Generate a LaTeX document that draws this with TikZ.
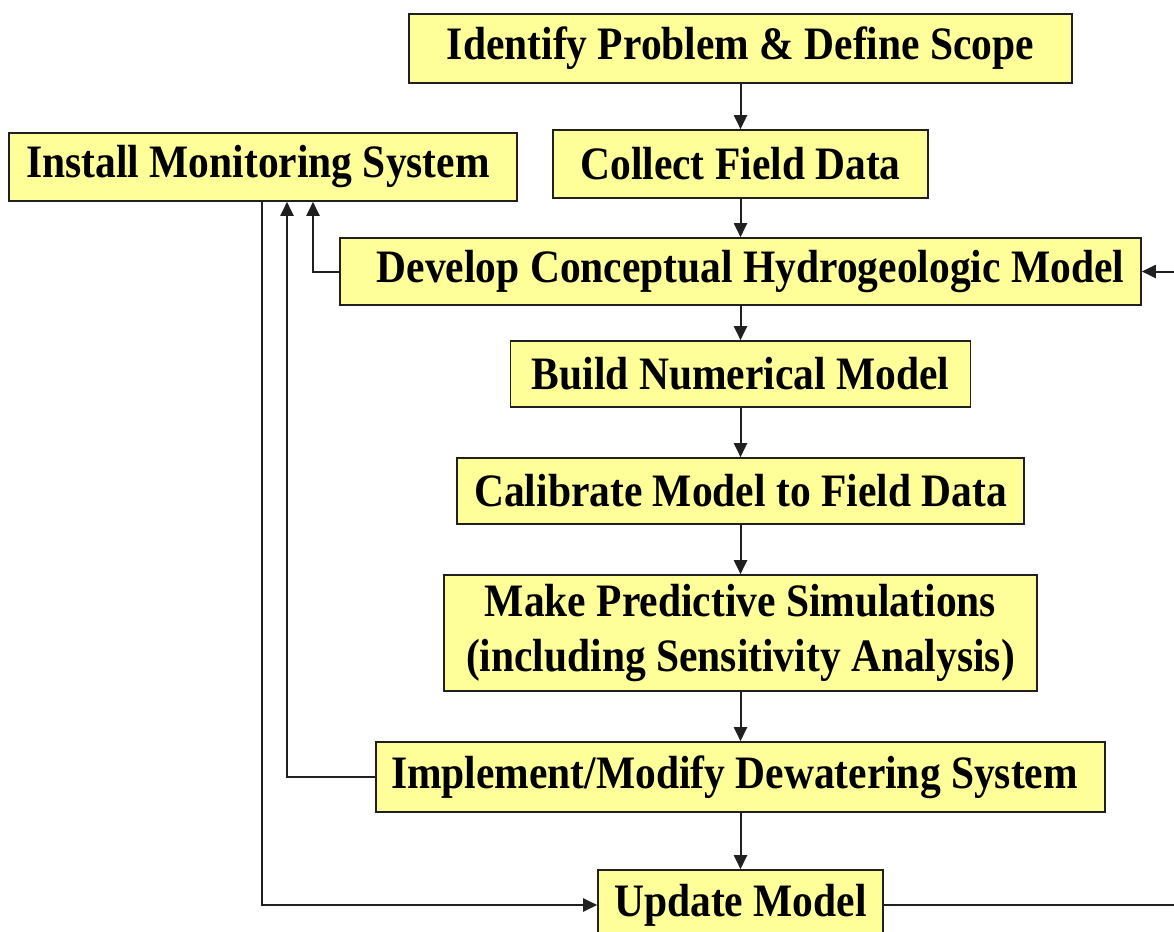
\documentclass[tikz,border=0pt]{standalone}
\usepackage{fontspec}
\usepackage{graphicx}
\setmainfont{Liberation Serif}
\usetikzlibrary{arrows.meta}
\definecolor{boxfill}{HTML}{FFFF99}
\definecolor{linegray}{HTML}{202020}
\newcommand{\talltext}[1]{\scalebox{1}[1.12]{#1}}
\tikzset{
  stepbox/.style={draw=linegray, line width=1.6pt, fill=boxfill, inner sep=0pt,
    font=\fontsize{41.5}{50}\selectfont\bfseries, align=center, anchor=center},
  conn/.style={draw=linegray, line width=2pt, -{Triangle[length=14pt,width=13pt]}},
  plain/.style={draw=linegray, line width=2pt}
}
\begin{document}
\begin{tikzpicture}[x=1pt,y=-1pt]
\clip (0,0) rectangle (1174,931);
\fill[white] (0,0) rectangle (1174,931);
\node[stepbox, minimum width=663pt, minimum height=69pt] (identify) at (740.5,48.5) {\talltext{Identify Problem \& Define Scope}};
\node[stepbox, minimum width=375pt, minimum height=68pt] (collect) at (740.5,164) {\talltext{Collect Field Data}};
\node[stepbox, minimum width=508pt, minimum height=68pt] (install) at (263,167) {\hspace*{-10pt}\talltext{Install Monitoring System}};
\node[stepbox, minimum width=801pt, minimum height=67pt] (develop) at (740.5,271.5) {\hspace*{20pt}\talltext{Develop Conceptual Hydrogeologic Model}};
\node[stepbox, minimum width=460pt, minimum height=66pt] (build) at (740.5,374) {\talltext{Build Numerical Model}};
\node[stepbox, minimum width=567pt, minimum height=66pt] (calib) at (740.5,491) {\talltext{Calibrate Model to Field Data}};
\node[stepbox, minimum width=593pt, minimum height=116pt] (predict) at (740.5,633) {\talltext{\begin{tabular}{@{}c@{}}Make Predictive Simulations\\[-1pt](including Sensitivity Analysis)\end{tabular}}};
\node[stepbox, minimum width=729pt, minimum height=70pt] (implement) at (740.5,777) {\hspace*{-12pt}\talltext{Implement/Modify Dewatering System}};
\node[stepbox, minimum width=285pt, minimum height=70pt] (update) at (740.5,905) {\talltext{Update Model}};
\coordinate (rightin) at (1200,271.5);
\coordinate (rightout) at (update.east -| rightin);
% main chain
\draw[conn] (identify) -- (collect);
\draw[conn] (collect) -- (develop);
\draw[conn] (develop) -- (build);
\draw[conn] (build) -- (calib);
\draw[conn] (calib) -- (predict);
\draw[conn] (predict) -- (implement);
\draw[conn] (implement) -- (update);
% feedback to monitoring
\draw[conn] (develop.west) -| (install.south -| 313,0);
\draw[conn] (implement.west) -| (install.south -| 287,0);
\draw[conn] (install.south -| 262,0) |- (update.west);
% loop back from update to develop (runs off the picture)
\draw[plain] (update.east) -- (rightout) -- (rightin);
\draw[conn] (rightin) -- (develop.east);
\end{tikzpicture}
\end{document}
